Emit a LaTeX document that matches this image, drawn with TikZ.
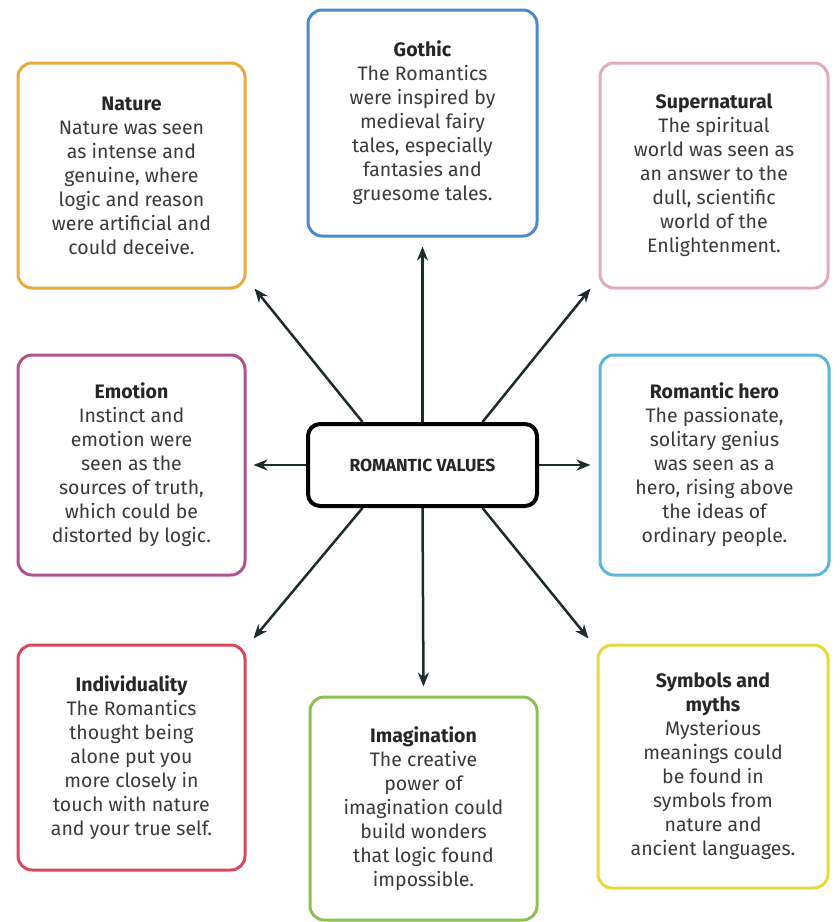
\documentclass[tikz,border=0pt]{standalone}
\usepackage{fontspec}
\setmainfont{Fira Sans}
\usetikzlibrary{arrows.meta}

\definecolor{natureC}{HTML}{EBAA3C}
\definecolor{gothicC}{HTML}{4C8AD0}
\definecolor{superC}{HTML}{E3A9C0}
\definecolor{emotionC}{HTML}{B5508F}
\definecolor{heroC}{HTML}{5BB5DD}
\definecolor{indivC}{HTML}{D94860}
\definecolor{imagC}{HTML}{8CC152}
\definecolor{symbC}{HTML}{E6DA3A}
\definecolor{textC}{HTML}{3A3A3A}
\definecolor{arrowC}{HTML}{1C2B2B}

\begin{document}
\begin{tikzpicture}[x=1pt,y=-1pt,
    box/.style={draw, line width=3pt, rounded corners=14pt, fill=white,
        align=center, text=textC, inner sep=0pt,
        font=\fontsize{19.5}{24}\selectfont},
    hub/.style={draw, line width=4pt, rounded corners=12pt, fill=white,
        minimum width=229pt, minimum height=82pt,
        font=\fontsize{17.5}{20}\selectfont\bfseries, text=black!85},
    arr/.style={draw=arrowC, line width=2.5pt, -{Stealth[length=14pt,width=11pt]}}]
    \useasboundingbox (0,0) rectangle (839,922);

    \node[hub] (values) at (422.5,465) {ROMANTIC VALUES};

    \node[box, draw=natureC, minimum width=227pt, minimum height=225pt] (nature) at (131.5,175.5)
        {\textbf{\color{black!85}Nature}\\Nature was seen\\as intense and\\genuine, where\\logic and reason\\were artificial and\\could deceive.};
    \node[box, draw=gothicC, minimum width=229pt, minimum height=226pt] (gothic) at (422.5,123)
        {\textbf{\color{black!85}Gothic}\\The Romantics\\were inspired by\\medieval fairy\\tales, especially\\fantasies and\\gruesome tales.};
    \node[box, draw=superC, minimum width=228pt, minimum height=225pt] (super) at (714,175.5)
        {\textbf{\color{black!85}Supernatural}\\The spiritual\\world was seen as\\an answer to the\\dull, scientific\\world of the\\Enlightenment.};
    \node[box, draw=emotionC, minimum width=227pt, minimum height=220pt] (emotion) at (131.5,465)
        {\textbf{\color{black!85}Emotion}\\Instinct and\\emotion were\\seen as the\\sources of truth,\\which could be\\distorted by logic.};
    \node[box, draw=heroC, minimum width=229pt, minimum height=220pt] (hero) at (714.5,465)
        {\textbf{\color{black!85}Romantic hero}\\The passionate,\\solitary genius\\was seen as a\\hero, rising above\\the ideas of\\ordinary people.};
    \node[box, draw=indivC, minimum width=227pt, minimum height=225pt] (indiv) at (131.5,757.5)
        {\textbf{\color{black!85}Individuality}\\The Romantics\\thought being\\alone put you\\more closely in\\touch with nature\\and your true self.};
    \node[box, draw=imagC, minimum width=227pt, minimum height=223pt] (imag) at (423.5,808.5)
        {\textbf{\color{black!85}Imagination}\\The creative\\power of\\imagination could\\build wonders\\that logic found\\impossible.};
    \node[box, draw=symbC, minimum width=230pt, minimum height=243pt] (symb) at (713,766.5)
        {\textbf{\color{black!85}Symbols and}\\\textbf{\color{black!85}myths}\\Mysterious\\meanings could\\be found in\\symbols from\\nature and\\ancient languages.};

    % arrows out of the hub
    \draw[arr] ([xshift=-60pt]values.north) -- ([xshift=8pt,yshift=1pt]nature.south east);
    \draw[arr] (values.north) -- ([yshift=-9pt]gothic.south);
    \draw[arr] ([xshift=60pt]values.north) -- ([xshift=-8pt,yshift=1pt]super.south west);
    \draw[arr] (values.west) -- ([xshift=7pt]emotion.east);
    \draw[arr] (values.east) -- ([xshift=-8pt]hero.west);
    \draw[arr] ([xshift=-60pt]values.south) -- ([xshift=7pt,yshift=5pt]indiv.north east);
    \draw[arr] (values.south) -- ([yshift=9pt]imag.north);
    \draw[arr] ([xshift=60pt]values.south) -- ([xshift=-8pt,yshift=5pt]symb.north west);
\end{tikzpicture}
\end{document}
